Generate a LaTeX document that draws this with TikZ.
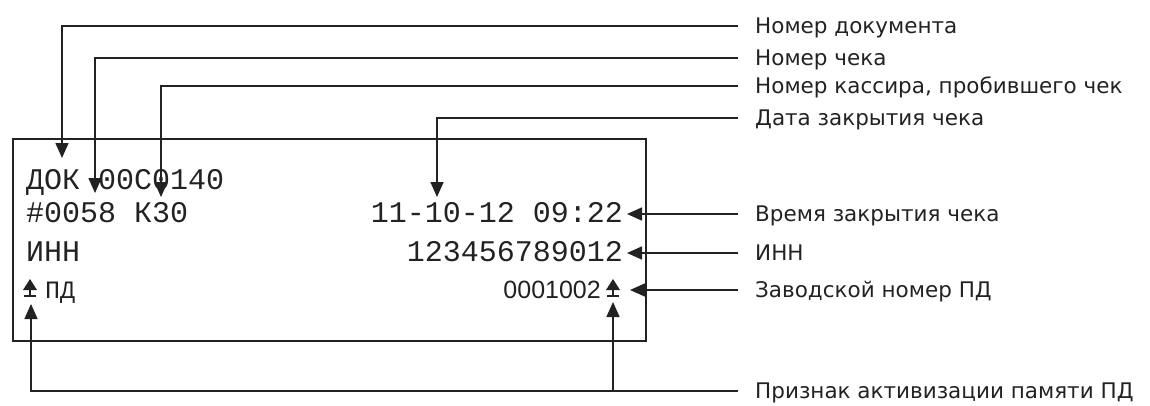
\documentclass[tikz,border=0pt]{standalone}
\usepackage{fontspec}
\setmainfont{DejaVu Sans}
\newfontfamily\receiptfont{Liberation Mono}
\newfontfamily\serialfont{Liberation Sans}
\usetikzlibrary{arrows.meta,positioning}
\definecolor{ink}{HTML}{222222}
\tikzset{
  calloutlabel/.style={
    anchor=west,
    inner sep=0pt,
    text height=15.5pt,
    text depth=0pt,
    font=\fontsize{21.5}{25}\selectfont,
    text=ink
  },
  receipttext/.style={
    inner sep=0pt,
    text height=17pt,
    text depth=0pt,
    font=\receiptfont\fontsize{30}{33}\selectfont,
    text=ink
  },
  serialtext/.style={
    inner sep=0pt,
    text height=18pt,
    text depth=0pt,
    font=\serialfont\fontsize{25}{28}\selectfont,
    text=ink
  },
  receiptbox/.style={
    draw=ink,
    line width=1.6pt,
    minimum width=633pt,
    minimum height=202pt,
    inner sep=0pt
  },
  memsign/.pic={
    \fill[ink] (-7,0) -- (7,0) -- (0,-11) -- cycle;
    \draw[ink, line width=1.6pt] (0,0) -- (0,6);
    \draw[ink, line width=1.6pt] (-6,6) -- (6,6);
  },
  calloutarrow/.style={-{Triangle[length=15pt,width=13pt]},line width=1.6pt,draw=ink},
  calloutline/.style={line width=1.6pt,draw=ink}
}

\begin{document}
\begin{tikzpicture}[x=1pt,y=-1pt]
  \useasboundingbox (0,0) rectangle (1150,405);
  \node[receiptbox] (receipt) at (329.5,240) {};

  \node[receipttext, anchor=west] (docline) at (26,181) {ДОК 00С0140};
  \node[receipttext, anchor=west] (checkline) at (26,214) {\#0058 К30};
  \node[receipttext, anchor=west] (innname) at (26,253) {ИНН};
  \node[receipttext, anchor=west, font=\receiptfont\fontsize{25}{28}\selectfont] (pdname) at (45,290) {ПД};
  \node[receipttext, anchor=east] (timeval) at (623,214) {11-10-12 09:22};
  \node[receipttext, anchor=east] (innval) at (623,253) {123456789012};
  \node[serialtext, anchor=east] (serialval) at (601,289) {0001002};
  \pic at (30,290) {memsign};
  \pic at (613,290) {memsign};

  \coordinate (tipdoc) at (62,158);
  \coordinate (tipcheck) at (95,193);
  \coordinate (tipcashier) at (161,197);
  \coordinate (tipdate) at (437,197);
  \coordinate (tipserial) at (630,290);
  \coordinate (memleft) at (31,304);
  \coordinate (memright) at (613,302);

  \node[calloutlabel] (lbldoc) at (755,26) {Номер документа};
  \node[calloutlabel] (lblcheck) at (755,58) {Номер чека};
  \node[calloutlabel] (lblcashier) at (755,86) {Номер кассира, пробившего чек};
  \node[calloutlabel] (lbldate) at (755,118) {Дата закрытия чека};
  \node[calloutlabel] (lbltime) at (755,214) {Время закрытия чека};
  \node[calloutlabel] (lblinn) at (755,253) {ИНН};
  \node[calloutlabel] (lblserial) at (755,290) {Заводской номер ПД};
  \node[calloutlabel] (lblmem) at (755,391) {Признак активизации памяти ПД};

  \draw[calloutarrow] ([xshift=-17pt]lbldoc.west) -| (tipdoc);
  \draw[calloutarrow] ([xshift=-17pt]lblcheck.west) -| (tipcheck);
  \draw[calloutarrow] ([xshift=-17pt]lblcashier.west) -| (tipcashier);
  \draw[calloutarrow] ([xshift=-17pt]lbldate.west) -| (tipdate);
  \draw[calloutarrow] ([xshift=-17pt]lbltime.west) -- ([xshift=4pt]timeval.east);
  \draw[calloutarrow] ([xshift=-17pt]lblinn.west) -- ([xshift=4pt]innval.east);
  \draw[calloutarrow] ([xshift=-17pt]lblserial.west) -- (tipserial);
  \draw[calloutarrow] ([xshift=-17pt]lblmem.west) -| (memleft);
  \coordinate (membranch) at (memright |- lblmem.west);
  \draw[calloutarrow] (membranch) -- (memright);
\end{tikzpicture}
\end{document}
